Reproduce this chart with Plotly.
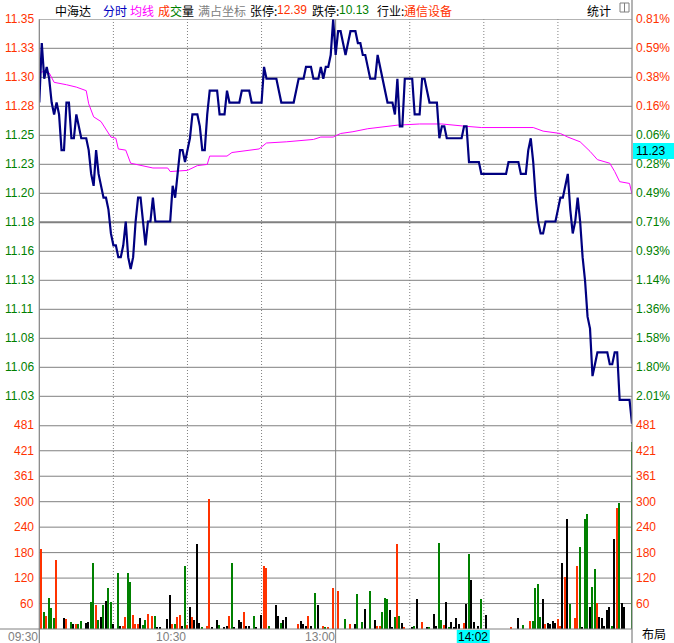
import plotly.graph_objects as go

# ---------------- data ----------------
stock_name = "中海达"
limit_up = "12.39"
limit_down = "10.13"
industry = "通信设备"
prev_close = 11.26

# left price-axis labels (top -> bottom) and right percentage labels
price_labels = ["11.35", "11.33", "11.30", "11.28", "11.25", "11.23", "11.20",
                "11.18", "11.16", "11.13", "11.11", "11.08", "11.06", "11.03"]
pct_labels = ["0.81%", "0.59%", "0.38%", "0.16%", "0.06%", "0.28%", "0.49%",
              "0.71%", "0.93%", "1.14%", "1.36%", "1.58%", "1.80%", "2.01%"]
vol_labels = ["481", "421", "361", "300", "240", "180", "120", "60"]
price_top = 11.35
price_step = 0.02438
vol_max = 481

time_labels = ["09:30", "10:30", "13:00"]
time_label_minute = [0, 60, 120]
cursor_time = "14:02"
cursor_minute = 182
cursor_price = "11.23"

# minute-by-minute price (minute 0 = 09:30, 120 = 11:30/13:00, 240 = 15:00)
price = [
    11.28, 11.33, 11.30, 11.31, 11.30, 11.28, 11.27, 11.28, 11.27, 11.24,
    11.24, 11.28, 11.28, 11.25, 11.25, 11.27, 11.26, 11.25, 11.25, 11.25,
    11.24, 11.22, 11.21, 11.24, 11.22, 11.21, 11.20, 11.20, 11.19, 11.17,
    11.16, 11.16, 11.15, 11.15, 11.16, 11.18, 11.15, 11.14, 11.15, 11.18,
    11.20, 11.20, 11.18, 11.16, 11.18, 11.18, 11.20, 11.18, 11.18, 11.18,
    11.18, 11.18, 11.18, 11.18, 11.21, 11.20, 11.22, 11.24, 11.24, 11.23,
    11.24, 11.25, 11.27, 11.27, 11.27, 11.26, 11.24, 11.24, 11.27, 11.29,
    11.29, 11.29, 11.29, 11.27, 11.27, 11.27, 11.29, 11.28, 11.28, 11.28,
    11.28, 11.28, 11.29, 11.29, 11.29, 11.29, 11.28, 11.28, 11.28, 11.28,
    11.28, 11.31, 11.30, 11.30, 11.30, 11.30, 11.30, 11.29, 11.28, 11.28,
    11.28, 11.28, 11.28, 11.28, 11.29, 11.30, 11.30, 11.30, 11.31, 11.31,
    11.31, 11.30, 11.30, 11.30, 11.31, 11.30, 11.31, 11.31, 11.32, 11.35,
    11.32, 11.34, 11.34, 11.33, 11.32, 11.33, 11.34, 11.34, 11.34, 11.33,
    11.33, 11.32, 11.32, 11.31, 11.30, 11.30, 11.30, 11.32, 11.31, 11.30,
    11.29, 11.28, 11.28, 11.28, 11.27, 11.30, 11.26, 11.26, 11.30, 11.30,
    11.30, 11.30, 11.27, 11.27, 11.27, 11.30, 11.30, 11.29, 11.28, 11.28,
    11.28, 11.28, 11.25, 11.26, 11.26, 11.25, 11.25, 11.25, 11.25, 11.25,
    11.25, 11.25, 11.26, 11.26, 11.23, 11.23, 11.23, 11.23, 11.23, 11.22,
    11.22, 11.22, 11.22, 11.22, 11.22, 11.22, 11.22, 11.22, 11.22, 11.22,
    11.23, 11.23, 11.23, 11.23, 11.23, 11.22, 11.22, 11.22, 11.24, 11.25,
    11.23, 11.20, 11.18, 11.17, 11.17, 11.18, 11.18, 11.18, 11.18, 11.18,
    11.19, 11.20, 11.20, 11.21, 11.22, 11.19, 11.17, 11.18, 11.20, 11.18,
    11.15, 11.13, 11.10, 11.09, 11.05, 11.06, 11.07, 11.07, 11.07, 11.07,
    11.07, 11.06, 11.06, 11.07, 11.07, 11.03, 11.03, 11.03, 11.03, 11.03,
    11.01,
]

# average-price line, read at these minutes
avg_minute = [0, 3, 4, 6, 11, 15, 19, 20, 22, 25,
              29, 31, 32, 35, 37, 41, 46, 52, 53, 60,
              64, 68, 69, 76, 78, 89, 92, 100, 111, 114,
              119, 122, 127, 133, 140, 145, 154, 163, 173, 179,
              200, 204, 211, 214, 219, 223, 226, 231, 233, 235,
              239, 240]
avg_price = [11.305, 11.307, 11.305, 11.297, 11.295, 11.293, 11.290, 11.279, 11.268, 11.264,
             11.251, 11.250, 11.241, 11.240, 11.229, 11.227, 11.225, 11.225, 11.222, 11.223,
             11.227, 11.228, 11.235, 11.235, 11.238, 11.241, 11.246, 11.247, 11.249, 11.251,
             11.251, 11.254, 11.2555, 11.258, 11.260, 11.261, 11.262, 11.262, 11.260, 11.259,
             11.259, 11.256, 11.254, 11.251, 11.247, 11.239, 11.232, 11.229, 11.222, 11.2135,
             11.212, 11.203]

# volume bars: minute, volume, direction (1 up / -1 down / 0 flat)
bar_minute = [1, 2, 3, 4, 5, 6, 7, 10, 11, 13, 14, 15, 16, 17, 19, 20, 21, 22, 23, 24,
              25, 26, 27, 28, 29, 30, 32, 33, 34, 35, 36, 37, 38, 39, 40, 41, 42, 43, 44, 46,
              47, 48, 49, 52, 53, 54, 55, 56, 57, 58, 59, 60, 61, 62, 63, 64, 65, 66, 68, 69,
              70, 72, 73, 75, 76, 77, 78, 79, 81, 82, 83, 84, 85, 87, 88, 90, 91, 92, 93, 96,
              97, 98, 99, 100, 105, 106, 107, 108, 109, 110, 112, 113, 115, 116, 117, 119, 121,
              124, 126, 128, 129, 131, 132, 134, 136, 137, 138, 139, 140, 141, 142, 143, 144,
              145, 146, 147, 148, 151, 152, 153, 155, 157, 158, 160, 161, 162, 163, 164, 165,
              166, 167, 168, 169, 170, 172, 173, 174, 175, 176, 178, 179, 181, 191, 194, 196,
              199, 200, 201, 202, 203, 204, 205, 206, 207, 208, 209, 210, 211, 212, 213, 214,
              215, 217, 218, 219, 220, 221, 222, 223, 224, 225, 226, 227, 228, 229, 230, 231,
              232, 233, 234, 235, 236, 237, 240]
bar_volume = [189, 39, 31, 73, 50, 26, 163, 26, 24, 17, 12, 12, 12, 19, 14, 17, 62, 154, 57, 21,
              28, 57, 66, 95, 64, 12, 132, 7, 7, 28, 132, 111, 33, 12, 12, 26, 9, 21, 35, 31,
              31, 2, 5, 24, 80, 12, 12, 28, 33, 7, 147, 9, 52, 28, 21, 201, 14, 2, 7, 307,
              2, 21, 9, 5, 7, 31, 156, 5, 21, 17, 40, 7, 7, 31, 5, 33, 147, 144, 7, 57,
              31, 14, 21, 28, 12, 19, 12, 7, 31, 7, 85, 57, 7, 2, 5, 97, 90,
              24, 12, 12, 83, 17, 47, 88, 21, 7, 7, 40, 73, 69, 43, 2, 28,
              199, 31, 14, 2, 2, 7, 69, 17, 5, 2, 35, 7, 203, 21, 9, 64,
              2, 17, 5, 26, 12, 14, 59, 177, 114, 17, 7, 69, 33, 2, 26, 9,
              19, 19, 95, 106, 28, 71, 12, 14, 12, 19, 14, 24, 7, 154, 121, 260,
              59, 26, 149, 192, 2, 260, 270, 52, 99, 140, 61, 28, 26, 7, 45, 52,
              7, 213, 284, 296, 61, 52, 440]
bar_dir = [1, -1, 1, -1, -1, -1, 1, 0, 1, -1, 0, 1, -1, -1, 0, 0, -1, -1, 1, -1,
           0, -1, 0, -1, -1, 0, -1, 0, 1, 1, -1, -1, 1, 1, 1, 0, -1, -1, 1, 1,
           -1, 0, 0, 0, 0, 1, -1, 1, 1, 0, -1, 1, 0, 1, 0, 0, 0, -1, 1, 1,
           0, 0, -1, 0, 0, 1, -1, 0, 0, 0, 1, 0, 0, -1, 0, 0, 1, 1, -1, 0,
           0, -1, 0, 0, 1, 0, 0, 0, 1, 0, -1, 0, 1, -1, 1, 1, 1,
           -1, 1, 0, -1, -1, 0, -1, 0, 1, 1, -1, -1, -1, 0, 0, -1,
           1, -1, 0, 1, 0, -1, 0, 1, 0, -1, 0, 0, -1, -1, 1, 0,
           -1, 0, 0, 0, 0, 1, 0, -1, 0, 0, 0, -1, 0, 1, 0, -1,
           1, -1, -1, -1, -1, 0, 1, 0, 0, 0, 0, 1, 1, 0, 1, 0,
           -1, 1, 1, -1, 0, -1, -1, 0, -1, -1, 1, 0, 0, 0, 0, 0,
           -1, 0, 1, -1, 0, 0, -1]

assert len(price) == 241
assert len(avg_minute) == len(avg_price)
assert len(bar_minute) == len(bar_volume) == len(bar_dir)

# ---------------- styling / geometry ----------------
W, H = 674, 643
X0, X1 = 39.3, 632.0          # plot left / right (px)
Y_TOP, Y_MID, Y_BOT = 19.3, 425.3, 629.0

RED = "#FF3200"
GREEN = "#008000"
GRID = "#808080"
NAVY = "#000080"
MAG = "#FF00FF"
NUMFONT = "Liberation Sans, Arial, sans-serif"
CJKFONT = "Noto Sans CJK SC, sans-serif"


def px(x):
    return x / W


def py(y):
    return 1 - y / H


n_steps = len(price_labels)
price_bot = price_top - n_steps * price_step
n_min = len(price) - 1

fig = go.Figure()
fig.add_trace(go.Bar(
    x=bar_minute, y=bar_volume, width=0.5,
    marker=dict(color=[RED if d > 0 else (GREEN if d < 0 else "#000000") for d in bar_dir],
                line=dict(width=0)),
    xaxis="x2", yaxis="y2", hoverinfo="skip"))
fig.add_trace(go.Scatter(x=avg_minute, y=avg_price, mode="lines",
                         line=dict(color=MAG, width=1), hoverinfo="skip"))
fig.add_trace(go.Scatter(x=list(range(len(price))), y=price, mode="lines",
                         line=dict(color=NAVY, width=2.2), hoverinfo="skip"))

shapes = []
annotations = []

# horizontal grid lines in price panel + labels
for k, (lab, pct) in enumerate(zip(price_labels, pct_labels)):
    v = price_top - k * price_step
    shapes.append(dict(type="line", xref="paper", yref="y", x0=px(X0), x1=px(X1), y0=v, y1=v,
                       line=dict(color=GRID, width=2 if k == 7 else 1), layer="below"))
    col = RED if float(lab) >= prev_close else GREEN
    annotations.append(dict(text=lab, xref="paper", yref="y", x=px(36), y=v, xanchor="right",
                            yanchor="middle", showarrow=False, font=dict(family=NUMFONT, size=12, color=col)))
    annotations.append(dict(text=pct, xref="paper", yref="y", x=px(634), y=v, xanchor="left",
                            yanchor="middle", showarrow=False, font=dict(family=NUMFONT, size=12, color=col)))

# volume grid lines + labels
for k, lab in enumerate(vol_labels):
    v = vol_max - k * vol_max / len(vol_labels)
    shapes.append(dict(type="line", xref="paper", yref="y2", x0=px(X0), x1=px(X1), y0=v, y1=v,
                       line=dict(color=GRID, width=2 if k == 0 else 1), layer="below"))
    for xx, anc in ((px(36), "right"), (px(634), "left")):
        annotations.append(dict(text=lab, xref="paper", yref="y2", x=xx, y=v, xanchor=anc,
                                yanchor="middle", showarrow=False,
                                font=dict(family=NUMFONT, size=12, color=RED)))

# bottom line
shapes.append(dict(type="line", xref="paper", yref="paper", x0=0, x1=px(X1), y0=py(Y_BOT), y1=py(Y_BOT),
                   line=dict(color=GRID, width=1)))

# vertical lines
for m in range(30, n_min, 30):
    if m == 120:
        shapes.append(dict(type="line", xref="x", yref="paper", x0=m, x1=m, y0=py(H), y1=py(Y_TOP),
                           line=dict(color=GRID, width=1), layer="below"))
    else:
        shapes.append(dict(type="line", xref="x", yref="paper", x0=m, x1=m, y0=py(Y_BOT), y1=py(Y_TOP),
                           line=dict(color=GRID, width=1, dash="1px,2px"), layer="below"))
shapes.append(dict(type="line", xref="paper", yref="paper", x0=px(X0), x1=px(X0), y0=py(H), y1=py(Y_TOP),
                   line=dict(color=GRID, width=1.2)))
shapes.append(dict(type="line", xref="paper", yref="paper", x0=px(X1), x1=px(X1), y0=py(H), y1=1,
                   line=dict(color=GRID, width=1.2)))

# time labels
for lab, m in zip(time_labels, time_label_minute):
    xr = X0 + m * (X1 - X0) / n_min
    annotations.append(dict(text=lab, xref="paper", yref="paper", x=px(xr + 1), y=py(636.5),
                            xanchor="right", yanchor="middle", showarrow=False,
                            font=dict(family=NUMFONT, size=12, color=GRID)))
annotations.append(dict(text="布局", xref="paper", yref="paper", x=px(641), y=0,
                        xanchor="left", yanchor="bottom", showarrow=False, borderpad=0,
                        font=dict(family=CJKFONT, size=12, color="#000000")))

# cursor boxes
cx = X0 + cursor_minute * (X1 - X0) / n_min
shapes.append(dict(type="rect", xref="paper", yref="paper", x0=px(cx - 32), x1=px(cx + 1),
                   y0=py(H), y1=py(Y_BOT + 1), fillcolor="#00FFFF", line=dict(width=0)))
annotations.append(dict(text=cursor_time, xref="paper", yref="paper", x=px(cx - 15.5), y=py(636.5),
                        xanchor="center", yanchor="middle", showarrow=False,
                        font=dict(family=NUMFONT, size=12, color="#000000")))
shapes.append(dict(type="rect", xref="paper", yref="paper", x0=px(X1 + 1), x1=1,
                   y0=py(159), y1=py(143), fillcolor="#00FFFF", line=dict(width=0)))
annotations.append(dict(text=cursor_price, xref="paper", yref="paper", x=px(634), y=py(151),
                        xanchor="left", yanchor="middle", showarrow=False,
                        font=dict(family=NUMFONT, size=12, color="#000000")))

# header
header = [
    (stock_name, 53, "#000000"),
    ("分时", 101, "#0000C0"),
    ("均线", 128, MAG),
    ("成", 156, RED),
    ("交", 168, GREEN),
    ("量", 180, "#000000"),
    ("满占坐标", 196, GRID),
    ("张停:", 248, "#000000"),
    (limit_up, 275, RED),
    ("跌停:", 310, "#000000"),
    (limit_down, 337, GREEN),
    ("行业:", 375, "#000000"),
    (industry, 402, RED),
    ("统计", 585, "#000000"),
]
for txt, xx, col in header:
    fam = NUMFONT if txt[0].isdigit() else CJKFONT
    annotations.append(dict(text=txt, xref="paper", yref="paper", x=px(xx), y=py(10.5),
                            xanchor="left", yanchor="middle", showarrow=False,
                            font=dict(family=fam, size=12, color=col)))
# small layout icon
shapes.append(dict(type="rect", xref="paper", yref="paper", x0=px(620), x1=px(629), y0=py(12), y1=py(3),
                   line=dict(color=GRID, width=1), fillcolor="white"))
shapes.append(dict(type="line", xref="paper", yref="paper", x0=px(624.5), x1=px(624.5), y0=py(12), y1=py(3),
                   line=dict(color=GRID, width=1)))

fig.update_layout(
    width=W, height=H, margin=dict(l=0, r=0, t=0, b=0),
    paper_bgcolor="white", plot_bgcolor="rgba(0,0,0,0)",
    showlegend=False, hovermode=False, bargap=0,
    xaxis=dict(domain=[px(X0), px(X1)], range=[0, n_min], visible=False, fixedrange=True),
    yaxis=dict(domain=[py(Y_MID), py(Y_TOP)], range=[price_bot, price_top], visible=False, fixedrange=True),
    xaxis2=dict(domain=[px(X0), px(X1)], range=[0, n_min], visible=False, anchor="y2", fixedrange=True),
    yaxis2=dict(domain=[py(Y_BOT), py(Y_MID)], range=[0, vol_max], visible=False, anchor="x2", fixedrange=True),
    shapes=shapes, annotations=annotations,
)

fig.write_html("out.html", config={"displayModeBar": False},
               post_script="document.body.style.margin='0';document.body.style.overflow='hidden';")
